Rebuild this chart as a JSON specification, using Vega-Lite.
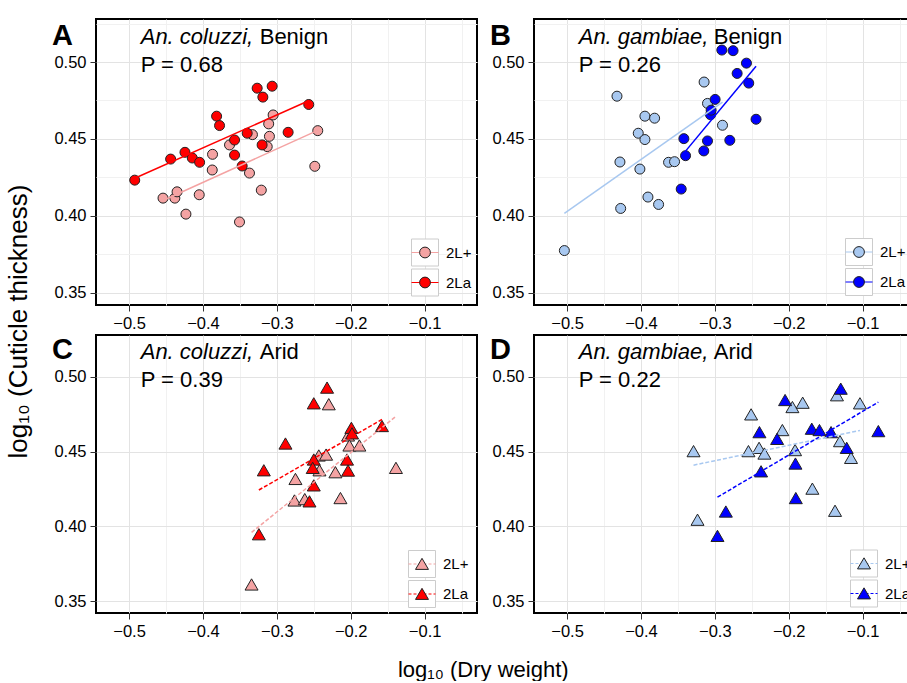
{
  "$schema": "https://vega.github.io/schema/vega-lite/v6.json",
  "background": "white",
  "padding": {"left": 5, "top": 14, "right": 0, "bottom": 0},
  "title": {"text": "log₁₀ (Cuticle thickness)", "orient": "left", "anchor": "middle", "fontSize": 26, "fontWeight": "normal", "color": "black", "offset": 19, "dx": 26},
  "datasets": {
    "points": [
      {"p":"A","k":"2L+","dw":-0.454,"ct":0.4115},{"p":"A","k":"2L+","dw":-0.438,"ct":0.4115},{"p":"A","k":"2L+","dw":-0.435,"ct":0.4156},{"p":"A","k":"2L+","dw":-0.423,"ct":0.4011},{"p":"A","k":"2L+","dw":-0.405,"ct":0.4137},{"p":"A","k":"2L+","dw":-0.387,"ct":0.44},{"p":"A","k":"2L+","dw":-0.3874,"ct":0.4298},{"p":"A","k":"2L+","dw":-0.364,"ct":0.4461},{"p":"A","k":"2L+","dw":-0.3505,"ct":0.396},{"p":"A","k":"2L+","dw":-0.337,"ct":0.4278},{"p":"A","k":"2L+","dw":-0.333,"ct":0.4528},{"p":"A","k":"2L+","dw":-0.321,"ct":0.4167},{"p":"A","k":"2L+","dw":-0.313,"ct":0.445},{"p":"A","k":"2L+","dw":-0.31,"ct":0.4517},{"p":"A","k":"2L+","dw":-0.311,"ct":0.4598},{"p":"A","k":"2L+","dw":-0.305,"ct":0.4656},{"p":"A","k":"2L+","dw":-0.2446,"ct":0.4554},{"p":"A","k":"2L+","dw":-0.2486,"ct":0.4322},
      {"p":"A","k":"2La","dw":-0.4923,"ct":0.4232},{"p":"A","k":"2La","dw":-0.4437,"ct":0.4369},{"p":"A","k":"2La","dw":-0.4243,"ct":0.4413},{"p":"A","k":"2La","dw":-0.4144,"ct":0.4376},{"p":"A","k":"2La","dw":-0.4045,"ct":0.4348},{"p":"A","k":"2La","dw":-0.3815,"ct":0.4648},{"p":"A","k":"2La","dw":-0.3775,"ct":0.4587},{"p":"A","k":"2La","dw":-0.3572,"ct":0.4493},{"p":"A","k":"2La","dw":-0.3572,"ct":0.4395},{"p":"A","k":"2La","dw":-0.3469,"ct":0.4324},{"p":"A","k":"2La","dw":-0.3401,"ct":0.4537},{"p":"A","k":"2La","dw":-0.3266,"ct":0.483},{"p":"A","k":"2La","dw":-0.3189,"ct":0.4772},{"p":"A","k":"2La","dw":-0.3063,"ct":0.4843},{"p":"A","k":"2La","dw":-0.3199,"ct":0.4461},{"p":"A","k":"2La","dw":-0.2847,"ct":0.4543},{"p":"A","k":"2La","dw":-0.2568,"ct":0.4724},
      {"p":"B","k":"2L+","dw":-0.5036,"ct":0.3774},{"p":"B","k":"2L+","dw":-0.4324,"ct":0.4778},{"p":"B","k":"2L+","dw":-0.4284,"ct":0.435},{"p":"B","k":"2L+","dw":-0.4274,"ct":0.4048},{"p":"B","k":"2L+","dw":-0.4036,"ct":0.4537},{"p":"B","k":"2L+","dw":-0.4014,"ct":0.4304},{"p":"B","k":"2L+","dw":-0.3946,"ct":0.4648},{"p":"B","k":"2L+","dw":-0.3946,"ct":0.4496},{"p":"B","k":"2L+","dw":-0.3905,"ct":0.4122},{"p":"B","k":"2L+","dw":-0.3815,"ct":0.4635},{"p":"B","k":"2L+","dw":-0.3761,"ct":0.4074},{"p":"B","k":"2L+","dw":-0.3626,"ct":0.4348},{"p":"B","k":"2L+","dw":-0.3545,"ct":0.4352},{"p":"B","k":"2L+","dw":-0.3145,"ct":0.487},{"p":"B","k":"2L+","dw":-0.3099,"ct":0.4731},{"p":"B","k":"2L+","dw":-0.2896,"ct":0.4589},
      {"p":"B","k":"2La","dw":-0.3455,"ct":0.4174},{"p":"B","k":"2La","dw":-0.3419,"ct":0.4502},{"p":"B","k":"2La","dw":-0.3396,"ct":0.4391},{"p":"B","k":"2La","dw":-0.3149,"ct":0.4422},{"p":"B","k":"2La","dw":-0.3099,"ct":0.4487},{"p":"B","k":"2La","dw":-0.3058,"ct":0.4657},{"p":"B","k":"2La","dw":-0.305,"ct":0.4687},{"p":"B","k":"2La","dw":-0.2996,"ct":0.4757},{"p":"B","k":"2La","dw":-0.2905,"ct":0.5078},{"p":"B","k":"2La","dw":-0.2753,"ct":0.5074},{"p":"B","k":"2La","dw":-0.2797,"ct":0.4491},{"p":"B","k":"2La","dw":-0.2698,"ct":0.4926},{"p":"B","k":"2La","dw":-0.2572,"ct":0.4993},{"p":"B","k":"2La","dw":-0.2541,"ct":0.4863},{"p":"B","k":"2La","dw":-0.2442,"ct":0.4628},
      {"p":"C","k":"2L+","dw":-0.3342,"ct":0.3611},{"p":"C","k":"2L+","dw":-0.2748,"ct":0.4317},{"p":"C","k":"2L+","dw":-0.2761,"ct":0.4173},{"p":"C","k":"2L+","dw":-0.2622,"ct":0.4182},{"p":"C","k":"2L+","dw":-0.2432,"ct":0.4474},{"p":"C","k":"2L+","dw":-0.2333,"ct":0.448},{"p":"C","k":"2L+","dw":-0.2423,"ct":0.4375},{"p":"C","k":"2L+","dw":-0.2297,"ct":0.4817},{"p":"C","k":"2L+","dw":-0.2207,"ct":0.4362},{"p":"C","k":"2L+","dw":-0.2139,"ct":0.4189},{"p":"C","k":"2L+","dw":-0.2036,"ct":0.4608},{"p":"C","k":"2L+","dw":-0.2018,"ct":0.4541},{"p":"C","k":"2L+","dw":-0.1883,"ct":0.4541},{"p":"C","k":"2L+","dw":-0.1388,"ct":0.4391},
      {"p":"C","k":"2La","dw":-0.232,"ct":0.4928},{"p":"C","k":"2La","dw":-0.25,"ct":0.4823},{"p":"C","k":"2La","dw":-0.2883,"ct":0.4554},{"p":"C","k":"2La","dw":-0.3176,"ct":0.4375},{"p":"C","k":"2La","dw":-0.3243,"ct":0.3947},{"p":"C","k":"2La","dw":-0.25,"ct":0.4447},{"p":"C","k":"2La","dw":-0.2514,"ct":0.4391},{"p":"C","k":"2La","dw":-0.25,"ct":0.4274},{"p":"C","k":"2La","dw":-0.2558,"ct":0.4167},{"p":"C","k":"2La","dw":-0.1991,"ct":0.4659},{"p":"C","k":"2La","dw":-0.1982,"ct":0.4622},{"p":"C","k":"2La","dw":-0.205,"ct":0.4447},{"p":"C","k":"2La","dw":-0.2036,"ct":0.4373},{"p":"C","k":"2La","dw":-0.1577,"ct":0.4671},
      {"p":"D","k":"2L+","dw":-0.3288,"ct":0.4503},{"p":"D","k":"2L+","dw":-0.3234,"ct":0.4044},{"p":"D","k":"2L+","dw":-0.2509,"ct":0.4749},{"p":"D","k":"2L+","dw":-0.2545,"ct":0.4503},{"p":"D","k":"2L+","dw":-0.2401,"ct":0.4525},{"p":"D","k":"2L+","dw":-0.2329,"ct":0.4487},{"p":"D","k":"2L+","dw":-0.2086,"ct":0.4644},{"p":"D","k":"2L+","dw":-0.195,"ct":0.4798},{"p":"D","k":"2L+","dw":-0.1811,"ct":0.4827},{"p":"D","k":"2L+","dw":-0.1914,"ct":0.451},{"p":"D","k":"2L+","dw":-0.168,"ct":0.4252},{"p":"D","k":"2L+","dw":-0.1373,"ct":0.4104},{"p":"D","k":"2L+","dw":-0.1347,"ct":0.4877},{"p":"D","k":"2L+","dw":-0.1306,"ct":0.457},{"p":"D","k":"2L+","dw":-0.1157,"ct":0.4458},{"p":"D","k":"2L+","dw":-0.1036,"ct":0.4823},
      {"p":"D","k":"2La","dw":-0.2964,"ct":0.3936},{"p":"D","k":"2La","dw":-0.2851,"ct":0.4099},{"p":"D","k":"2La","dw":-0.2374,"ct":0.4368},{"p":"D","k":"2La","dw":-0.2396,"ct":0.463},{"p":"D","k":"2La","dw":-0.2157,"ct":0.4585},{"p":"D","k":"2La","dw":-0.2049,"ct":0.4845},{"p":"D","k":"2La","dw":-0.1909,"ct":0.442},{"p":"D","k":"2La","dw":-0.1904,"ct":0.4189},{"p":"D","k":"2La","dw":-0.1688,"ct":0.4653},{"p":"D","k":"2La","dw":-0.1584,"ct":0.4644},{"p":"D","k":"2La","dw":-0.1427,"ct":0.463},{"p":"D","k":"2La","dw":-0.1296,"ct":0.4921},{"p":"D","k":"2La","dw":-0.1215,"ct":0.4525},{"p":"D","k":"2La","dw":-0.0787,"ct":0.4637}
    ]
  },
  "spacing": 1,
  "resolve": {"scale": {"color": "independent", "fill": "independent", "shape": "independent"}, "legend": {"color": "independent", "fill": "independent", "shape": "independent"}},
  "vconcat": [
    {
      "spacing": 10,
      "resolve": {"scale": {"color": "independent", "fill": "independent", "shape": "independent"}, "legend": {"color": "independent", "fill": "independent", "shape": "independent"}},
      "hconcat": [
        {
          "width": 381, "height": 286,
          "data": {"name": "points"},
          "transform": [{"filter": "datum.p == 'A'"}],
          "layer": [
            {"mark": {"type": "point", "filled": true, "fill": "white", "stroke": "#cccccc", "strokeWidth": 1, "size": 4},
             "encoding": {
               "x": {"field": "dw", "type": "quantitative", "scale": {"domain": [-0.5447, -0.0291], "nice": false, "zero": false},
                 "axis": {"title": null, "values": [-0.5,-0.45,-0.4,-0.35,-0.3,-0.25,-0.2,-0.15,-0.1,-0.05], "labelExpr": "abs(datum.value*10-round(datum.value*10))<0.01 ? format(datum.value,'.1f') : ''", "gridColor": {"condition": {"test": "abs(datum.value*10-round(datum.value*10))<0.01", "value": "#e3e3e3"}, "value": "#f1f1f1"}, "tickOpacity": {"condition": {"test": "abs(datum.value*10-round(datum.value*10))<0.01", "value": 1}, "value": 0}, "labelFlush": false, "labelOverlap": false}},
               "y": {"field": "ct", "type": "quantitative", "scale": {"domain": [0.342, 0.528], "nice": false, "zero": false},
                 "axis": {"title": "A", "titleAngle": 0, "titleX": -34, "titleY": 25, "titleAlign": "center", "titleBaseline": "alphabetic", "titleFontSize": 29, "titleFontWeight": "bold", "titleColor": "black", "values": [0.35,0.375,0.4,0.425,0.45,0.475,0.5,0.525], "labelExpr": "abs(datum.value*20-round(datum.value*20))<0.01 ? format(datum.value,'.2f') : ''", "gridColor": {"condition": {"test": "abs(datum.value*20-round(datum.value*20))<0.01", "value": "#e3e3e3"}, "value": "#f1f1f1"}, "tickOpacity": {"condition": {"test": "abs(datum.value*20-round(datum.value*20))<0.01", "value": 1}, "value": 0}, "labelOverlap": false}},
               "shape": {"field": "k", "type": "nominal", "scale": {"range": ["square", "square"]}, "legend": {"title": null, "orient": "none", "legendX": 315, "legendY": 219.5, "rowPadding": -6, "symbolSize": 729, "symbolStrokeWidth": 1, "symbolOpacity": 1, "labelExpr": "''", "zindex": 1}}}},
            {"mark": {"type": "point", "shape": "circle", "filled": true, "size": 100, "stroke": "#222222", "strokeWidth": 1, "opacity": 1},
             "encoding": {
               "x": {"field": "dw", "type": "quantitative", "scale": {"domain": [-0.5447, -0.0291], "nice": false, "zero": false}},
               "y": {"field": "ct", "type": "quantitative", "scale": {"domain": [0.342, 0.528], "nice": false, "zero": false}},
               "fill": {"field": "k", "type": "nominal", "scale": {"domain": ["2L+", "2La"], "range": ["#f4a3a3", "#ff0000"]}, "legend": {"title": null, "orient": "none", "legendX": 315, "legendY": 219.5, "rowPadding": -6, "symbolType": "M-1,-1M1,1M0.4,0A0.4,0.4,0,1,1,-0.4,0A0.4,0.4,0,1,1,0.4,0Z", "symbolSize": 729, "symbolStrokeWidth": 1, "labelFontSize": 15, "labelColor": "black", "labelOffset": 7, "zindex": 3}}}},
            {"transform": [{"regression": "ct", "on": "dw", "groupby": ["k"]}],
             "mark": {"type": "line", "strokeWidth": 1.5},
             "encoding": {
               "x": {"field": "dw", "type": "quantitative", "scale": {"domain": [-0.5447, -0.0291], "nice": false, "zero": false}},
               "y": {"field": "ct", "type": "quantitative", "scale": {"domain": [0.342, 0.528], "nice": false, "zero": false}},
               "color": {"field": "k", "type": "nominal", "scale": {"range": ["#f4a3a3", "#ff0000"]}, "legend": {"title": null, "orient": "none", "legendX": 315, "legendY": 219.5, "rowPadding": -6, "symbolType": "M-1,-1M-1,0L1,0M1,1", "symbolSize": 729, "symbolStrokeWidth": 1, "labelExpr": "''", "zindex": 2}}}},
            {"data": {"values": [{"p": "A"}]}, "mark": {"type": "text", "text": "An. coluzzi,", "fontStyle": "italic", "fontSize": 22, "align": "left", "baseline": "alphabetic", "color": "black"},
             "encoding": {"x": {"datum": -0.4842, "type": "quantitative", "scale": {"domain": [-0.5447, -0.0291], "nice": false, "zero": false}}, "y": {"datum": 0.5119, "type": "quantitative", "scale": {"domain": [0.342, 0.528], "nice": false, "zero": false}}}},
            {"data": {"values": [{"p": "A"}]}, "mark": {"type": "text", "text": "Benign", "fontSize": 22, "align": "left", "baseline": "alphabetic", "color": "black", "dx": 119},
             "encoding": {"x": {"datum": -0.4842, "type": "quantitative", "scale": {"domain": [-0.5447, -0.0291], "nice": false, "zero": false}}, "y": {"datum": 0.5119, "type": "quantitative", "scale": {"domain": [0.342, 0.528], "nice": false, "zero": false}}}},
            {"data": {"values": [{"p": "A"}]}, "mark": {"type": "text", "text": "P = 0.68", "fontSize": 22, "align": "left", "baseline": "alphabetic", "color": "black"},
             "encoding": {"x": {"datum": -0.4842, "type": "quantitative", "scale": {"domain": [-0.5447, -0.0291], "nice": false, "zero": false}}, "y": {"datum": 0.4934, "type": "quantitative", "scale": {"domain": [0.342, 0.528], "nice": false, "zero": false}}}}
          ]
        },
        {
          "width": 381, "height": 286,
          "data": {"name": "points"},
          "transform": [{"filter": "datum.p == 'B'"}],
          "layer": [
            {"mark": {"type": "point", "filled": true, "fill": "white", "stroke": "#cccccc", "strokeWidth": 1, "size": 4},
             "encoding": {
               "x": {"field": "dw", "type": "quantitative", "scale": {"domain": [-0.5447, -0.0291], "nice": false, "zero": false},
                 "axis": {"title": null, "values": [-0.5,-0.45,-0.4,-0.35,-0.3,-0.25,-0.2,-0.15,-0.1,-0.05], "labelExpr": "abs(datum.value*10-round(datum.value*10))<0.01 ? format(datum.value,'.1f') : ''", "gridColor": {"condition": {"test": "abs(datum.value*10-round(datum.value*10))<0.01", "value": "#e3e3e3"}, "value": "#f1f1f1"}, "tickOpacity": {"condition": {"test": "abs(datum.value*10-round(datum.value*10))<0.01", "value": 1}, "value": 0}, "labelFlush": false, "labelOverlap": false}},
               "y": {"field": "ct", "type": "quantitative", "scale": {"domain": [0.342, 0.528], "nice": false, "zero": false},
                 "axis": {"title": "B", "titleAngle": 0, "titleX": -34, "titleY": 25, "titleAlign": "center", "titleBaseline": "alphabetic", "titleFontSize": 29, "titleFontWeight": "bold", "titleColor": "black", "values": [0.35,0.375,0.4,0.425,0.45,0.475,0.5,0.525], "labelExpr": "abs(datum.value*20-round(datum.value*20))<0.01 ? format(datum.value,'.2f') : ''", "gridColor": {"condition": {"test": "abs(datum.value*20-round(datum.value*20))<0.01", "value": "#e3e3e3"}, "value": "#f1f1f1"}, "tickOpacity": {"condition": {"test": "abs(datum.value*20-round(datum.value*20))<0.01", "value": 1}, "value": 0}, "labelOverlap": false}},
               "shape": {"field": "k", "type": "nominal", "scale": {"range": ["square", "square"]}, "legend": {"title": null, "orient": "none", "legendX": 311, "legendY": 219, "rowPadding": -6, "symbolSize": 729, "symbolStrokeWidth": 1, "symbolOpacity": 1, "labelExpr": "''", "zindex": 1}}}},
            {"mark": {"type": "point", "shape": "circle", "filled": true, "size": 100, "stroke": "#222222", "strokeWidth": 1, "opacity": 1},
             "encoding": {
               "x": {"field": "dw", "type": "quantitative", "scale": {"domain": [-0.5447, -0.0291], "nice": false, "zero": false}},
               "y": {"field": "ct", "type": "quantitative", "scale": {"domain": [0.342, 0.528], "nice": false, "zero": false}},
               "fill": {"field": "k", "type": "nominal", "scale": {"domain": ["2L+", "2La"], "range": ["#a8c8f0", "#0000ff"]}, "legend": {"title": null, "orient": "none", "legendX": 311, "legendY": 219, "rowPadding": -6, "symbolType": "M-1,-1M1,1M0.4,0A0.4,0.4,0,1,1,-0.4,0A0.4,0.4,0,1,1,0.4,0Z", "symbolSize": 729, "symbolStrokeWidth": 1, "labelFontSize": 15, "labelColor": "black", "labelOffset": 7, "zindex": 3}}}},
            {"transform": [{"regression": "ct", "on": "dw", "groupby": ["k"]}],
             "mark": {"type": "line", "strokeWidth": 1.5},
             "encoding": {
               "x": {"field": "dw", "type": "quantitative", "scale": {"domain": [-0.5447, -0.0291], "nice": false, "zero": false}},
               "y": {"field": "ct", "type": "quantitative", "scale": {"domain": [0.342, 0.528], "nice": false, "zero": false}},
               "color": {"field": "k", "type": "nominal", "scale": {"range": ["#a8c8f0", "#0000ff"]}, "legend": {"title": null, "orient": "none", "legendX": 311, "legendY": 219, "rowPadding": -6, "symbolType": "M-1,-1M-1,0L1,0M1,1", "symbolSize": 729, "symbolStrokeWidth": 1, "labelExpr": "''", "zindex": 2}}}},
            {"data": {"values": [{"p": "B"}]}, "mark": {"type": "text", "text": "An. gambiae,", "fontStyle": "italic", "fontSize": 22, "align": "left", "baseline": "alphabetic", "color": "black"},
             "encoding": {"x": {"datum": -0.4842, "type": "quantitative", "scale": {"domain": [-0.5447, -0.0291], "nice": false, "zero": false}}, "y": {"datum": 0.5119, "type": "quantitative", "scale": {"domain": [0.342, 0.528], "nice": false, "zero": false}}}},
            {"data": {"values": [{"p": "B"}]}, "mark": {"type": "text", "text": "Benign", "fontSize": 22, "align": "left", "baseline": "alphabetic", "color": "black", "dx": 135},
             "encoding": {"x": {"datum": -0.4842, "type": "quantitative", "scale": {"domain": [-0.5447, -0.0291], "nice": false, "zero": false}}, "y": {"datum": 0.5119, "type": "quantitative", "scale": {"domain": [0.342, 0.528], "nice": false, "zero": false}}}},
            {"data": {"values": [{"p": "B"}]}, "mark": {"type": "text", "text": "P = 0.26", "fontSize": 22, "align": "left", "baseline": "alphabetic", "color": "black"},
             "encoding": {"x": {"datum": -0.4842, "type": "quantitative", "scale": {"domain": [-0.5447, -0.0291], "nice": false, "zero": false}}, "y": {"datum": 0.4934, "type": "quantitative", "scale": {"domain": [0.342, 0.528], "nice": false, "zero": false}}}}
          ]
        }
      ]
    },
    {
      "spacing": 10,
      "resolve": {"scale": {"color": "independent", "fill": "independent", "shape": "independent"}, "legend": {"color": "independent", "fill": "independent", "shape": "independent"}},
      "title": {"text": "log₁₀ (Dry weight)", "orient": "bottom", "anchor": "middle", "fontSize": 22, "fontWeight": "normal", "color": "black", "offset": 19},
      "hconcat": [
        {
          "width": 381, "height": 278,
          "data": {"name": "points"},
          "transform": [{"filter": "datum.p == 'C'"}],
          "layer": [
            {"mark": {"type": "point", "filled": true, "fill": "white", "stroke": "#cccccc", "strokeWidth": 1, "size": 4},
             "encoding": {
               "x": {"field": "dw", "type": "quantitative", "scale": {"domain": [-0.5447, -0.0291], "nice": false, "zero": false},
                 "axis": {"title": null, "values": [-0.5,-0.45,-0.4,-0.35,-0.3,-0.25,-0.2,-0.15,-0.1,-0.05], "labelExpr": "abs(datum.value*10-round(datum.value*10))<0.01 ? format(datum.value,'.1f') : ''", "gridColor": {"condition": {"test": "abs(datum.value*10-round(datum.value*10))<0.01", "value": "#e3e3e3"}, "value": "#f1f1f1"}, "tickOpacity": {"condition": {"test": "abs(datum.value*10-round(datum.value*10))<0.01", "value": 1}, "value": 0}, "labelFlush": false, "labelOverlap": false}},
               "y": {"field": "ct", "type": "quantitative", "scale": {"domain": [0.342, 0.528], "nice": false, "zero": false},
                 "axis": {"title": "C", "titleAngle": 0, "titleX": -34, "titleY": 23, "titleAlign": "center", "titleBaseline": "alphabetic", "titleFontSize": 29, "titleFontWeight": "bold", "titleColor": "black", "values": [0.35,0.375,0.4,0.425,0.45,0.475,0.5,0.525], "labelExpr": "abs(datum.value*20-round(datum.value*20))<0.01 ? format(datum.value,'.2f') : ''", "gridColor": {"condition": {"test": "abs(datum.value*20-round(datum.value*20))<0.01", "value": "#e3e3e3"}, "value": "#f1f1f1"}, "tickOpacity": {"condition": {"test": "abs(datum.value*20-round(datum.value*20))<0.01", "value": 1}, "value": 0}, "labelOverlap": false}},
               "shape": {"field": "k", "type": "nominal", "scale": {"range": ["square", "square"]}, "legend": {"title": null, "orient": "none", "legendX": 312, "legendY": 215, "rowPadding": -6, "symbolSize": 729, "symbolStrokeWidth": 1, "symbolOpacity": 1, "labelExpr": "''", "zindex": 1}}}},
            {"mark": {"type": "point", "shape": "triangle-up", "filled": true, "size": 169, "stroke": "#222222", "strokeWidth": 1, "opacity": 1},
             "encoding": {
               "x": {"field": "dw", "type": "quantitative", "scale": {"domain": [-0.5447, -0.0291], "nice": false, "zero": false}},
               "y": {"field": "ct", "type": "quantitative", "scale": {"domain": [0.342, 0.528], "nice": false, "zero": false}},
               "fill": {"field": "k", "type": "nominal", "scale": {"domain": ["2L+", "2La"], "range": ["#f4a3a3", "#ff0000"]}, "legend": {"title": null, "orient": "none", "legendX": 312, "legendY": 215, "rowPadding": -6, "symbolType": "M-1,-1M1,1M0,-0.42L0.48,0.4L-0.48,0.4Z", "symbolSize": 729, "symbolStrokeWidth": 1, "labelFontSize": 15, "labelColor": "black", "labelOffset": 7, "zindex": 3}}}},
            {"transform": [{"regression": "ct", "on": "dw", "groupby": ["k"]}],
             "mark": {"type": "line", "strokeWidth": 1.5, "strokeDash": [4, 2]},
             "encoding": {
               "x": {"field": "dw", "type": "quantitative", "scale": {"domain": [-0.5447, -0.0291], "nice": false, "zero": false}},
               "y": {"field": "ct", "type": "quantitative", "scale": {"domain": [0.342, 0.528], "nice": false, "zero": false}},
               "color": {"field": "k", "type": "nominal", "scale": {"range": ["#f4a3a3", "#ff0000"]}, "legend": {"title": null, "orient": "none", "legendX": 312, "legendY": 215, "rowPadding": -6, "symbolType": "M-1,-1M-1,0L1,0M1,1", "symbolSize": 729, "symbolStrokeWidth": 1, "symbolDash": [3, 2], "labelExpr": "''", "zindex": 2}}}},
            {"data": {"values": [{"p": "C"}]}, "mark": {"type": "text", "text": "An. coluzzi,", "fontStyle": "italic", "fontSize": 22, "align": "left", "baseline": "alphabetic", "color": "black"},
             "encoding": {"x": {"datum": -0.4842, "type": "quantitative", "scale": {"domain": [-0.5447, -0.0291], "nice": false, "zero": false}}, "y": {"datum": 0.5119, "type": "quantitative", "scale": {"domain": [0.342, 0.528], "nice": false, "zero": false}}}},
            {"data": {"values": [{"p": "C"}]}, "mark": {"type": "text", "text": "Arid", "fontSize": 22, "align": "left", "baseline": "alphabetic", "color": "black", "dx": 119},
             "encoding": {"x": {"datum": -0.4842, "type": "quantitative", "scale": {"domain": [-0.5447, -0.0291], "nice": false, "zero": false}}, "y": {"datum": 0.5119, "type": "quantitative", "scale": {"domain": [0.342, 0.528], "nice": false, "zero": false}}}},
            {"data": {"values": [{"p": "C"}]}, "mark": {"type": "text", "text": "P = 0.39", "fontSize": 22, "align": "left", "baseline": "alphabetic", "color": "black"},
             "encoding": {"x": {"datum": -0.4842, "type": "quantitative", "scale": {"domain": [-0.5447, -0.0291], "nice": false, "zero": false}}, "y": {"datum": 0.4934, "type": "quantitative", "scale": {"domain": [0.342, 0.528], "nice": false, "zero": false}}}}
          ]
        },
        {
          "width": 381, "height": 278,
          "data": {"name": "points"},
          "transform": [{"filter": "datum.p == 'D'"}],
          "layer": [
            {"mark": {"type": "point", "filled": true, "fill": "white", "stroke": "#cccccc", "strokeWidth": 1, "size": 4},
             "encoding": {
               "x": {"field": "dw", "type": "quantitative", "scale": {"domain": [-0.5447, -0.0291], "nice": false, "zero": false},
                 "axis": {"title": null, "values": [-0.5,-0.45,-0.4,-0.35,-0.3,-0.25,-0.2,-0.15,-0.1,-0.05], "labelExpr": "abs(datum.value*10-round(datum.value*10))<0.01 ? format(datum.value,'.1f') : ''", "gridColor": {"condition": {"test": "abs(datum.value*10-round(datum.value*10))<0.01", "value": "#e3e3e3"}, "value": "#f1f1f1"}, "tickOpacity": {"condition": {"test": "abs(datum.value*10-round(datum.value*10))<0.01", "value": 1}, "value": 0}, "labelFlush": false, "labelOverlap": false}},
               "y": {"field": "ct", "type": "quantitative", "scale": {"domain": [0.342, 0.528], "nice": false, "zero": false},
                 "axis": {"title": "D", "titleAngle": 0, "titleX": -34, "titleY": 23, "titleAlign": "center", "titleBaseline": "alphabetic", "titleFontSize": 29, "titleFontWeight": "bold", "titleColor": "black", "values": [0.35,0.375,0.4,0.425,0.45,0.475,0.5,0.525], "labelExpr": "abs(datum.value*20-round(datum.value*20))<0.01 ? format(datum.value,'.2f') : ''", "gridColor": {"condition": {"test": "abs(datum.value*20-round(datum.value*20))<0.01", "value": "#e3e3e3"}, "value": "#f1f1f1"}, "tickOpacity": {"condition": {"test": "abs(datum.value*20-round(datum.value*20))<0.01", "value": 1}, "value": 0}, "labelOverlap": false}},
               "shape": {"field": "k", "type": "nominal", "scale": {"range": ["square", "square"]}, "legend": {"title": null, "orient": "none", "legendX": 316, "legendY": 214.5, "rowPadding": -6, "symbolSize": 729, "symbolStrokeWidth": 1, "symbolOpacity": 1, "labelExpr": "''", "zindex": 1}}}},
            {"mark": {"type": "point", "shape": "triangle-up", "filled": true, "size": 169, "stroke": "#222222", "strokeWidth": 1, "opacity": 1},
             "encoding": {
               "x": {"field": "dw", "type": "quantitative", "scale": {"domain": [-0.5447, -0.0291], "nice": false, "zero": false}},
               "y": {"field": "ct", "type": "quantitative", "scale": {"domain": [0.342, 0.528], "nice": false, "zero": false}},
               "fill": {"field": "k", "type": "nominal", "scale": {"domain": ["2L+", "2La"], "range": ["#a8c8f0", "#0000ff"]}, "legend": {"title": null, "orient": "none", "legendX": 316, "legendY": 214.5, "rowPadding": -6, "symbolType": "M-1,-1M1,1M0,-0.42L0.48,0.4L-0.48,0.4Z", "symbolSize": 729, "symbolStrokeWidth": 1, "labelFontSize": 15, "labelColor": "black", "labelOffset": 7, "zindex": 3}}}},
            {"transform": [{"regression": "ct", "on": "dw", "groupby": ["k"]}],
             "mark": {"type": "line", "strokeWidth": 1.5, "strokeDash": [4, 2]},
             "encoding": {
               "x": {"field": "dw", "type": "quantitative", "scale": {"domain": [-0.5447, -0.0291], "nice": false, "zero": false}},
               "y": {"field": "ct", "type": "quantitative", "scale": {"domain": [0.342, 0.528], "nice": false, "zero": false}},
               "color": {"field": "k", "type": "nominal", "scale": {"range": ["#a8c8f0", "#0000ff"]}, "legend": {"title": null, "orient": "none", "legendX": 316, "legendY": 214.5, "rowPadding": -6, "symbolType": "M-1,-1M-1,0L1,0M1,1", "symbolSize": 729, "symbolStrokeWidth": 1, "symbolDash": [3, 2], "labelExpr": "''", "zindex": 2}}}},
            {"data": {"values": [{"p": "D"}]}, "mark": {"type": "text", "text": "An. gambiae,", "fontStyle": "italic", "fontSize": 22, "align": "left", "baseline": "alphabetic", "color": "black"},
             "encoding": {"x": {"datum": -0.4842, "type": "quantitative", "scale": {"domain": [-0.5447, -0.0291], "nice": false, "zero": false}}, "y": {"datum": 0.5119, "type": "quantitative", "scale": {"domain": [0.342, 0.528], "nice": false, "zero": false}}}},
            {"data": {"values": [{"p": "D"}]}, "mark": {"type": "text", "text": "Arid", "fontSize": 22, "align": "left", "baseline": "alphabetic", "color": "black", "dx": 135},
             "encoding": {"x": {"datum": -0.4842, "type": "quantitative", "scale": {"domain": [-0.5447, -0.0291], "nice": false, "zero": false}}, "y": {"datum": 0.5119, "type": "quantitative", "scale": {"domain": [0.342, 0.528], "nice": false, "zero": false}}}},
            {"data": {"values": [{"p": "D"}]}, "mark": {"type": "text", "text": "P = 0.22", "fontSize": 22, "align": "left", "baseline": "alphabetic", "color": "black"},
             "encoding": {"x": {"datum": -0.4842, "type": "quantitative", "scale": {"domain": [-0.5447, -0.0291], "nice": false, "zero": false}}, "y": {"datum": 0.4934, "type": "quantitative", "scale": {"domain": [0.342, 0.528], "nice": false, "zero": false}}}}
          ]
        }
      ]
    }
  ],
  "config": {
    "font": "Liberation Sans",
    "view": {"stroke": "black", "strokeWidth": 2},
    "axis": {"labelFontSize": 16.5, "labelColor": "black", "labelFont": "Liberation Sans", "tickColor": "#333333", "tickSize": 6, "tickWidth": 1, "labelPadding": 4, "domain": false, "gridWidth": 1},
    "legend": {"padding": 0, "labelFont": "Liberation Sans"},
    "title": {"font": "Liberation Sans"}
  }
}
